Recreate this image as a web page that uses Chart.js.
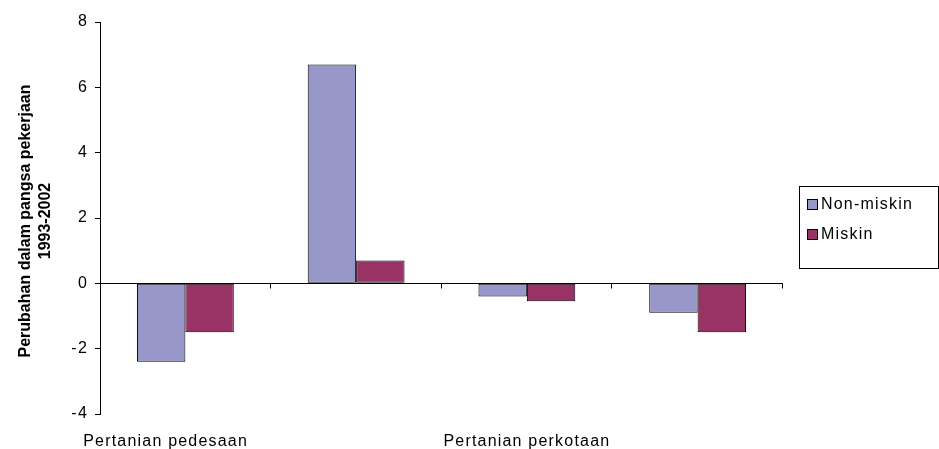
<!DOCTYPE html>
<html>
<head>
<meta charset="utf-8">
<script src="https://cdn.jsdelivr.net/npm/chart.js@4/dist/chart.umd.min.js"></script>
<style>
  html, body { margin: 0; padding: 0; background: #fff; }
  #wrap { position: relative; width: 939px; height: 449px; }
  #legend {
    position: absolute; left: 799px; top: 186px; width: 140px; height: 83px;
    border: 1px solid #000; box-sizing: border-box;
    font: 16px "Liberation Sans", Arial, sans-serif; letter-spacing: 1.2px; color: #000;
  }
  .item { position: absolute; left: 7px; height: 18px; line-height: 18px; }
  .item span {
    display: inline-block; width: 9px; height: 9px; border: 1px solid #000;
    margin-right: 3px; vertical-align: -1px;
  }
</style>
</head>
<body>
<div id="wrap">
  <canvas id="chart"></canvas>
  <div id="legend"></div>
</div>
<script>
/** Data */
const categories = ['Pertanian pedesaan', 'Non-pertanian pedesaan', 'Pertanian perkotaan', 'Non-pertanian perkotaan'];
const nonMiskin = [-2.4, 6.7, -0.4, -0.9];
const miskin = [-1.5, 0.7, -0.55, -1.5];
const seriesNames = ['Non-miskin', 'Miskin'];
const seriesColors = ['#9797C9', '#993366'];
const yTitle = ['Perubahan dalam pangsa pekerjaan', '1993-2002'];

const fontFamily = '"Liberation Sans", Arial, sans-serif';
Chart.defaults.font.family = fontFamily;
Chart.defaults.color = '#000';

/** Zero line, category ticks, letter spacing and rotated y title */
const excelLook = {
  id: 'excelLook',
  beforeLayout: chart => { chart.ctx.letterSpacing = '1.2px'; },
  beforeDraw: chart => { chart.ctx.letterSpacing = '1.2px'; },
  afterDatasetsDraw: chart => {
    const { ctx, chartArea, scales } = chart;
    const y0 = Math.round(scales.y.getPixelForValue(0)) + 0.5;
    const w = (chartArea.right - chartArea.left) / categories.length;
    ctx.save();
    ctx.strokeStyle = '#000';
    ctx.lineWidth = 1;
    ctx.beginPath();
    ctx.moveTo(chartArea.left, y0);
    ctx.lineTo(chartArea.right, y0);
    for (let k = 1; k <= categories.length; k++) {
      const x = Math.round(chartArea.left + k * w) - 0.5;
      ctx.moveTo(x, y0);
      ctx.lineTo(x, y0 + 5);
    }
    ctx.stroke();
    ctx.restore();
  },
  afterDraw: chart => {
    const { ctx, chartArea } = chart;
    const cy = (chartArea.top + chartArea.bottom) / 2 + 3;
    ctx.save();
    ctx.letterSpacing = '0px';
    ctx.font = 'bold 16px ' + fontFamily;
    ctx.fillStyle = '#000';
    ctx.textAlign = 'center';
    ctx.textBaseline = 'middle';
    [26, 46].forEach((x, i) => {
      ctx.save();
      ctx.translate(x, cy);
      ctx.rotate(-Math.PI / 2);
      ctx.fillText(yTitle[i], 0, 0);
      ctx.restore();
    });
    ctx.restore();
  }
};

new Chart(document.getElementById('chart'), {
  type: 'bar',
  data: {
    labels: categories,
    datasets: [nonMiskin, miskin].map((d, i) => ({
      label: seriesNames[i],
      data: d,
      backgroundColor: seriesColors[i],
      borderColor: '#000',
      borderWidth: 1,
      borderSkipped: false,
      categoryPercentage: 0.567,
      barPercentage: 1
    }))
  },
  options: {
    responsive: true,
    maintainAspectRatio: false,
    animation: false,
    layout: { padding: { top: 22, right: 156, bottom: 0, left: 0 } },
    plugins: {
      legend: { display: false },
      tooltip: { enabled: false },
      title: { display: false }
    },
    scales: {
      x: {
        grid: { display: false },
        border: { display: false },
        afterFit: s => { s.height = 35; },
        ticks: {
          autoSkip: false,
          maxRotation: 0,
          padding: 10,
          font: { size: 16 },
          // only every other category is labelled; the first one sits a bit left
          callback: (v, i) => (i % 2 === 0 ? categories[i] + (i === 0 ? '\u00a0'.repeat(7) : '') : '')
        }
      },
      y: {
        min: -4,
        max: 8,
        afterFit: s => { s.width = 100; },
        ticks: { stepSize: 2, padding: 7, font: { size: 16 } },
        grid: { drawOnChartArea: false, tickLength: 5, color: '#000' },
        border: { color: '#000' }
      }
    }
  },
  plugins: [excelLook]
});

document.getElementById('legend').innerHTML = seriesNames.map((n, i) =>
  `<div class="item" style="top:${8 + i * 30}px"><span style="background:${seriesColors[i]}"></span>${n}</div>`
).join('');
</script>
</body>
</html>
